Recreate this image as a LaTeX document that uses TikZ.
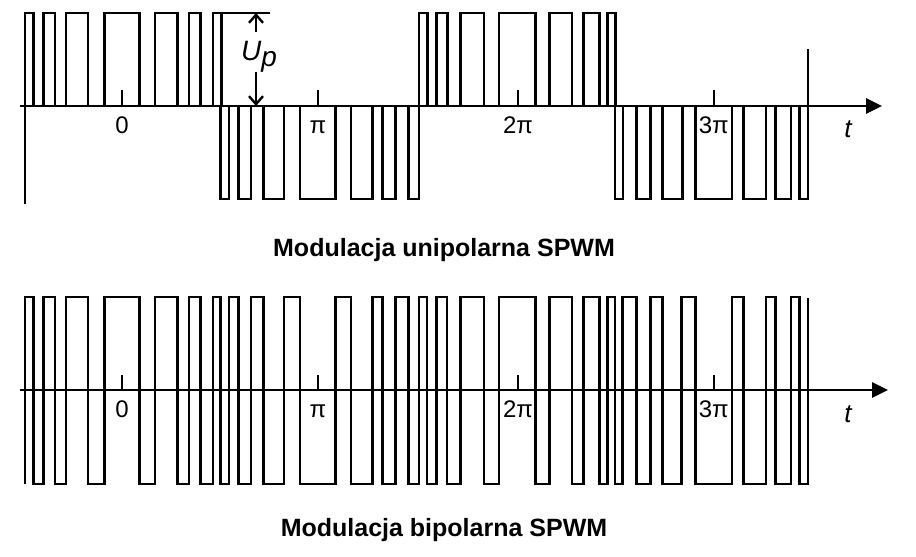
\documentclass[tikz,border=0pt]{standalone}
\usepackage{fontspec}
\setmainfont{Liberation Sans}
\usetikzlibrary{arrows.meta}
\begin{document}
\begin{tikzpicture}[x=1pt,y=-1pt,line join=miter,
  wave/.style={line width=2.8pt},
  axisline/.style={line width=2.8pt,-{Triangle[length=16pt,width=15pt]}},
  lbl/.style={font=\fontsize{24}{26}\selectfont,inner sep=0},
  title/.style={font=\fontsize{25}{27}\selectfont\bfseries,inner sep=0}]
\useasboundingbox (0,0) rectangle (916,557);
% ---------- unipolar ----------
\coordinate (a1s) at (20,106); \coordinate (a1e) at (882,106);
\draw[axisline] (a1s) -- (a1e);
\draw[wave] (25,204) -- (25,106);
\draw[wave] (25,106) foreach \a/\b in {25/33.7,43.3/55,66/88,104.3/139.3,155/177.7,189/200.7,213/221.7,419/427.3,436.7/447.3,460.7/484,499/535.3,549.7/572,583.7/599.3,607.3/615.3}{ -- (\a,106) -- (\a,13) -- (\b,13) -- (\b,106)};
\draw[wave] (220.7,106) foreach \a/\b in {220.7/229,238.7/251,263.7/284,300/335.7,351/372.3,382.7/395.3,408.7/419,615/623,636.3/650.7,662.7/682.3,695.3/732,743.7/766,775.3/791,799.7/808}{ -- (\a,106) -- (\a,199) -- (\b,199) -- (\b,106)};
\draw[wave] (808,106) -- (808,49);
\draw[wave] (221.7,13) -- (270,13);
\foreach \x/\t/\n in {122/0/z1,318/π/p1,518/2π/q1,713.7/3π/r1}{
  \draw[line width=2pt] (\x,90) -- (\x,106);
  \node[lbl,anchor=base] (\n) at (\x,133) {\t};}
\node[lbl,font=\fontsize{26}{28}\selectfont\itshape] (t1) at (848,129) {t};
\coordinate (u1) at (256,13); \coordinate (u2) at (256,32);
\coordinate (u3) at (256,72); \coordinate (u4) at (256,106);
\draw[line width=2.4pt,-{Straight Barb[length=8pt,width=14pt,line width=2.4pt]}] (u2) -- (u1);
\draw[line width=2.4pt,-{Straight Barb[length=8pt,width=14pt,line width=2.4pt]}] (u3) -- (u4);
\node[lbl,font=\fontsize{28}{30}\selectfont\itshape] (up) at (259,57) {U\raisebox{-6pt}{p}};
\node[title] (ti1) at (444,250) {Modulacja unipolarna SPWM};
% ---------- bipolar ----------
\coordinate (a2s) at (20,390); \coordinate (a2e) at (888,390);
\draw[axisline] (a2s) -- (a2e);
\draw[wave] (25,484) foreach \a/\b in {25/33.7,43.3/55,66/88,104.3/139.3,155/177.7,189/200.7,213/220.7,229/238.7,251/263.7,284/300,335.7/351,372.3/382.7,395.3/408.7,419/427,436.7/447,460.7/484,499/535.3,549.7/572,583.7/599.3,607.3/615,622.7/636.3,650.7/662.7,681.7/695.3,732/743.7,766/775.3,791/799.7}{ -- (\a,484) -- (\a,297) -- (\b,297) -- (\b,484)} -- (808,484) -- (808,298);
\foreach \x/\t/\n in {122/0/z2,318/π/p2,518/2π/q2,713.7/3π/r2}{
  \draw[line width=2pt] (\x,375) -- (\x,390);
  \node[lbl,anchor=base] (\n) at (\x,417) {\t};}
\node[lbl,font=\fontsize{26}{28}\selectfont\itshape] (t2) at (848,414) {t};
\node[title] (ti2) at (444,530) {Modulacja bipolarna SPWM};
\end{tikzpicture}
\end{document}
